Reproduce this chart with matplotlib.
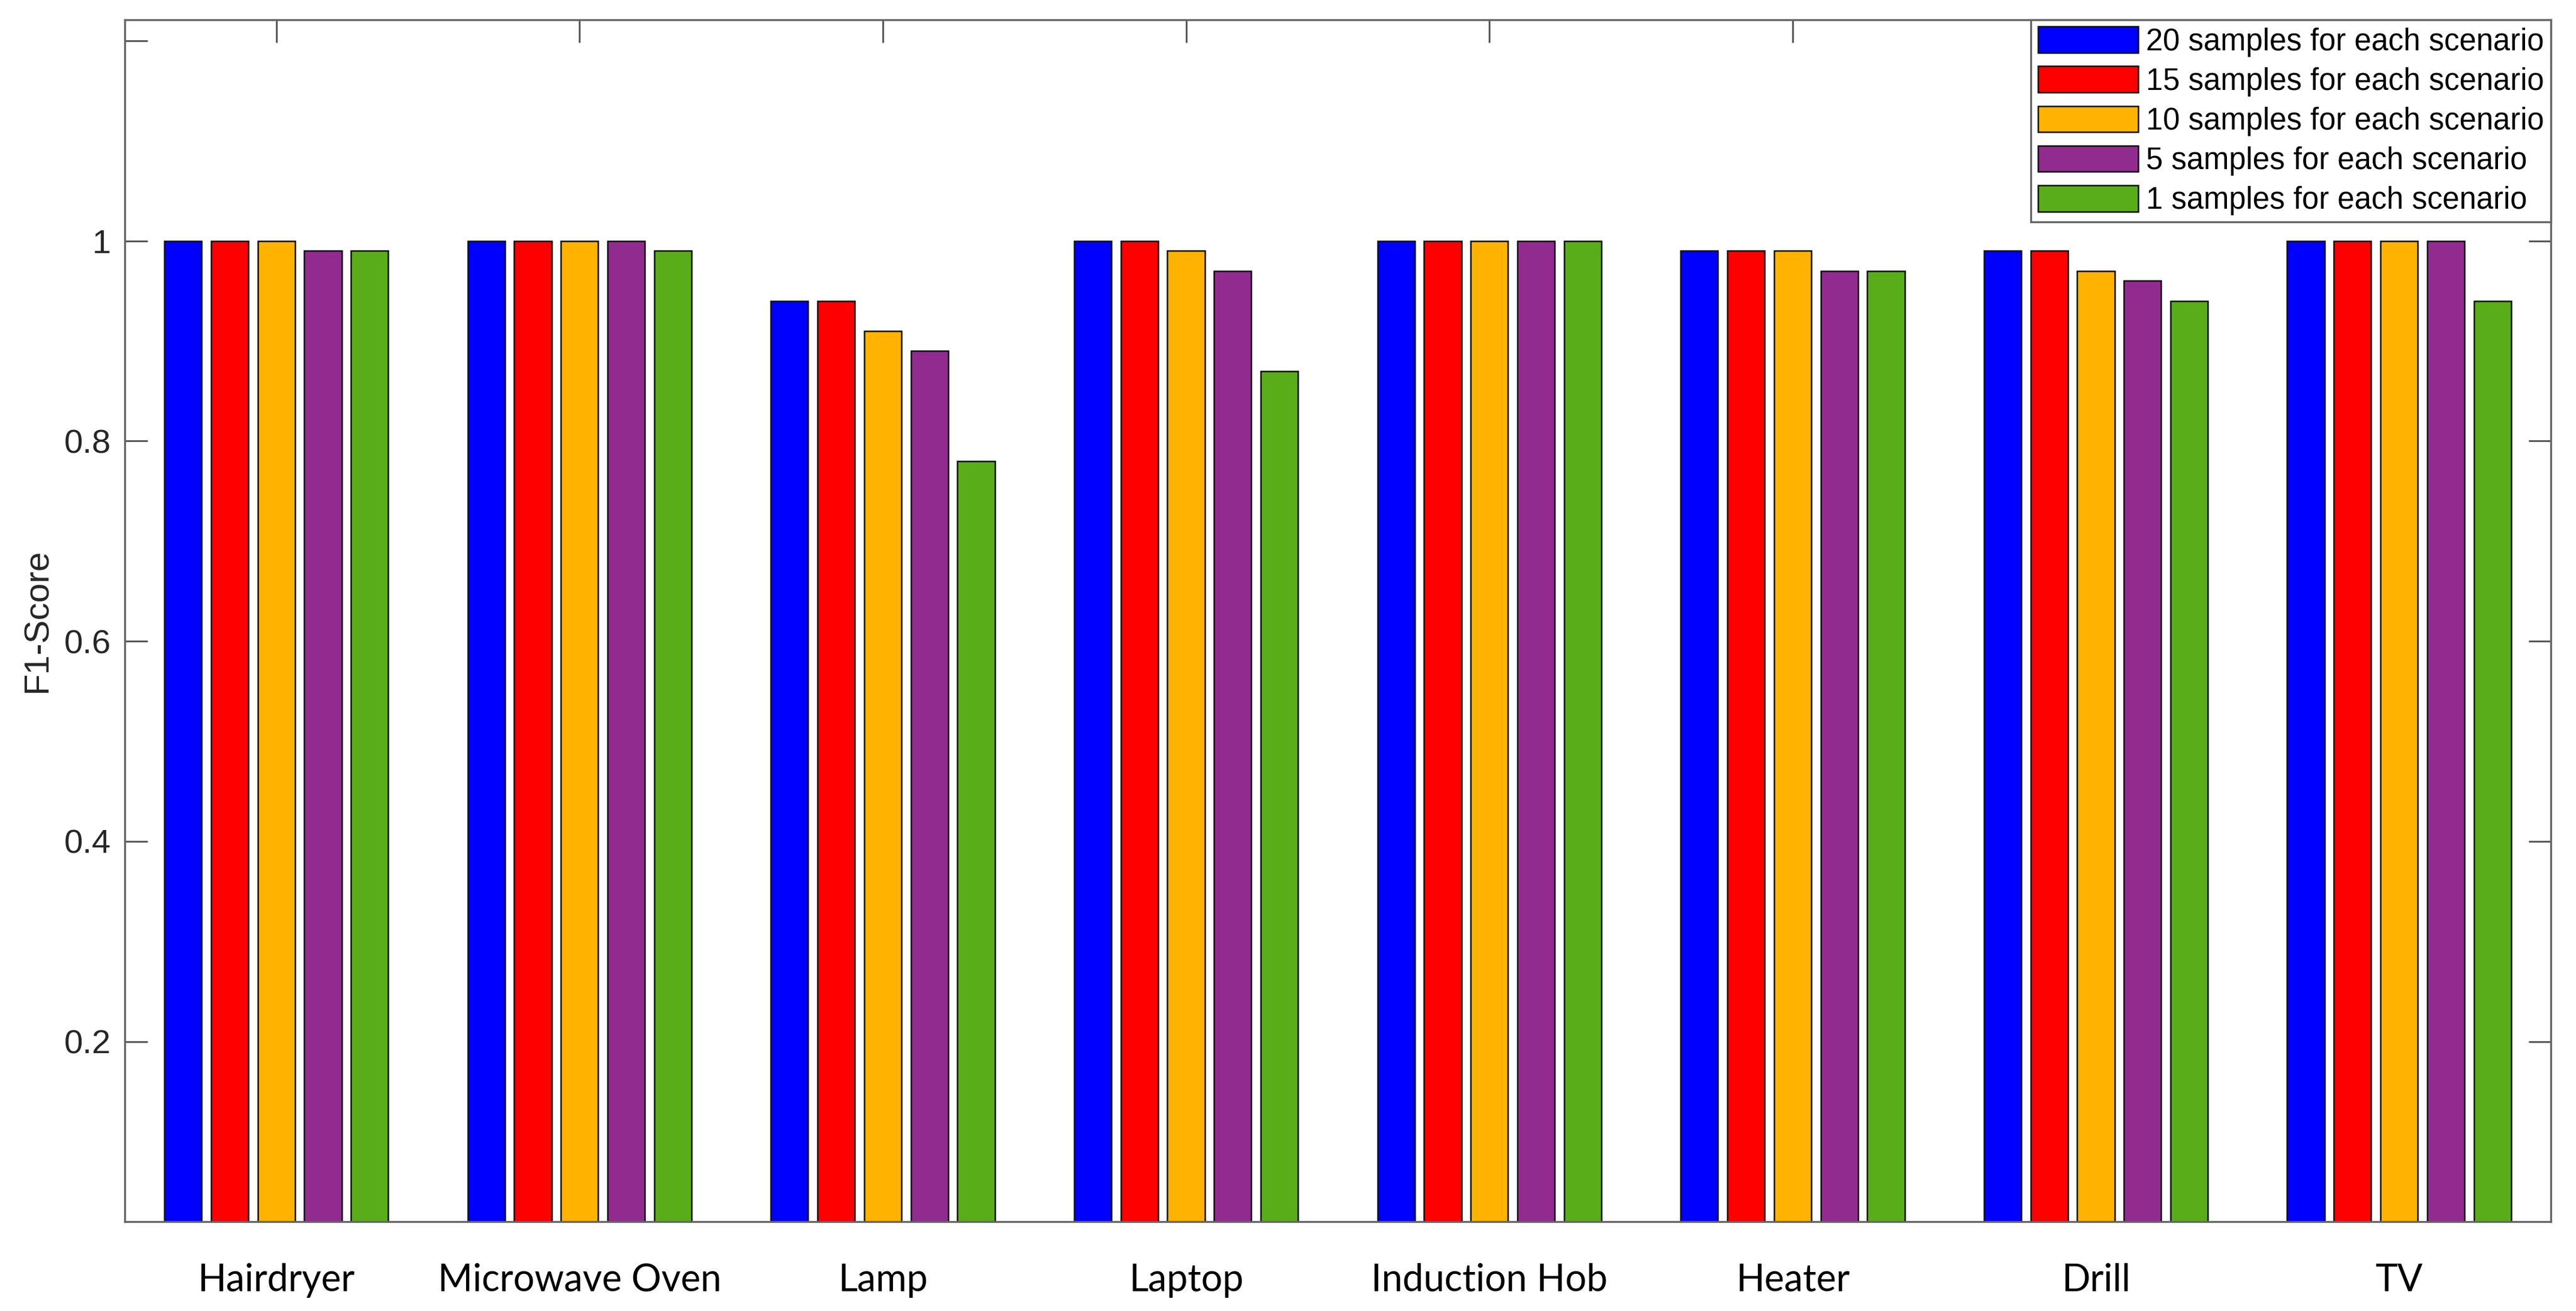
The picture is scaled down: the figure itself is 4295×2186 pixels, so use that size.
import numpy as np
import matplotlib
matplotlib.use("Agg")
from matplotlib import pyplot as plt

# appliances and F1-scores per training-set size
appliances = ["Hairdryer", "Microwave Oven", "Lamp", "Laptop",
              "Induction Hob", "Heater", "Drill", "TV"]
series_names = ["20 samples for each scenario", "15 samples for each scenario",
                "10 samples for each scenario", "5 samples for each scenario",
                "1 samples for each scenario"]
f1_20 = [1.00, 1.00, 0.94, 1.00, 1.00, 0.99, 0.99, 1.00]
f1_15 = [1.00, 1.00, 0.94, 1.00, 1.00, 0.99, 0.99, 1.00]
f1_10 = [1.00, 1.00, 0.91, 0.99, 1.00, 0.99, 0.97, 1.00]
f1_5 = [0.99, 1.00, 0.89, 0.97, 1.00, 0.97, 0.96, 1.00]
f1_1 = [0.99, 0.99, 0.78, 0.87, 1.00, 0.97, 0.94, 0.94]
y_ticks = [0.2, 0.4, 0.6, 0.8, 1.0, 1.2]
y_labels = ["0.2", "0.4", "0.6", "0.8", "1", ""]

colors = ["#0000ff", "#ff0000", "#ffb300", "#922b90", "#59ad18"]

arial = "Liberation Sans"
label_font = "Lato"   # closest to Calibri (Carlito is based on Lato)

fig = plt.figure(figsize=(4295 / 300, 2186 / 300), dpi=300)
ax = fig.add_axes([0.0484, 0.0682, 0.9418, 0.9167])

x = np.arange(1, len(appliances) + 1)
data = [f1_20, f1_15, f1_10, f1_5, f1_1]
nser = len(data)
group_w = min(0.8, nser / (nser + 1.5))   # matlab grouped bar layout
pitch = group_w / nser
bw = pitch * 0.8
for i, vals in enumerate(data):
    off = (i - (nser - 1) / 2) * pitch
    ax.bar(x + off, vals, bw, color=colors[i], edgecolor="#111111",
           linewidth=0.6, label=series_names[i], zorder=2)

ax.set_xlim(0.5, 8.5)
ax.set_ylim(0.02, 1.221)
ax.set_xticks(x)
ax.set_xticklabels(appliances, fontfamily=label_font, fontsize=15)
ax.set_yticks(y_ticks)
ax.set_yticklabels(y_labels, fontfamily=arial, fontsize=13.5, color="#262626")
ax.tick_params(axis="both", direction="in", top=True, right=True,
               color="#555555", width=0.7, length=9)
ax.tick_params(axis="x", pad=16.5)
ax.tick_params(axis="y", pad=5.5)
for s in ax.spines.values():
    s.set_color("#666666")
    s.set_linewidth(0.8)
ax.set_ylabel("F1-Score", fontfamily=arial, fontsize=14, color="#262626",
              labelpad=4)

leg = ax.legend(loc="upper right", bbox_to_anchor=(1.0, 1.0),
                prop={"family": arial, "size": 12.2}, fancybox=False,
                framealpha=1, edgecolor="#666666", borderaxespad=0,
                handlelength=3.3, handleheight=0.95, handletextpad=0.25,
                labelspacing=0.31, borderpad=0.22)
leg.get_frame().set_linewidth(0.8)

fig.savefig("out.png", dpi=300)
